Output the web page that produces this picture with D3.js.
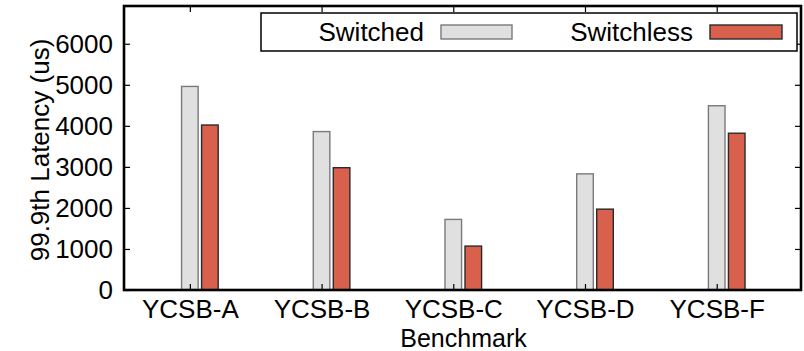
<!DOCTYPE html>
<html>
<head>
<meta charset="utf-8">
<script src="https://cdn.jsdelivr.net/npm/d3@7"></script>
<style>
  html, body { margin: 0; padding: 0; background: #fff; }
  svg { display: block; }
  text { font-family: "Liberation Sans", Arial, Helvetica, sans-serif; fill: #000; }
</style>
</head>
<body>
<svg id="chart" width="804" height="351"></svg>
<script>
// Benchmarks on the x axis
const categories = ["YCSB-A", "YCSB-B", "YCSB-C", "YCSB-D", "YCSB-F"];
// 99.9th percentile latency in microseconds
const switchedValues = [4960, 3860, 1720, 2830, 4490];
const switchlessValues = [4020, 2980, 1070, 1970, 3820];
const seriesNames = ["Switched", "Switchless"];
const yTicks = [0, 1000, 2000, 3000, 4000, 5000, 6000];

const colors = {
  Switched: { fill: "#e0e0e0", stroke: "#7a7a7a" },
  Switchless: { fill: "#d9604c", stroke: "#2a2a2a" }
};

const FONT = "26px";
const svg = d3.select("#chart");
const plot = { left: 124, right: 801, top: 6, bottom: 290 };

// Category index -> pixel; the first bar of each group sits on the tick
const x = d3.scaleLinear().domain([-0.5, 4.64]).range([plot.left, plot.right]);
const y = d3.scaleLinear().domain([0, 6920]).range([plot.bottom, plot.top]);

const step = x(1) - x(0);
const barW = step * 0.126;
const barOffset = step * 0.152;

const series = [
  { name: "Switched", values: switchedValues, offset: 0 },
  { name: "Switchless", values: switchlessValues, offset: barOffset }
];

// Bars
series.forEach(s => {
  svg.append("g")
    .selectAll("rect")
    .data(s.values)
    .join("rect")
    .attr("x", (d, i) => x(i) + s.offset - barW / 2)
    .attr("y", d => y(d))
    .attr("width", barW)
    .attr("height", d => y(0) - y(d))
    .attr("fill", colors[s.name].fill)
    .attr("stroke", colors[s.name].stroke)
    .attr("stroke-width", 1.4);
});

// Inward ticks on all four sides
const tickLen = 6;
const yAxisL = d3.axisLeft(y).tickValues(yTicks).tickSize(-tickLen).tickFormat(d3.format("d")).tickPadding(11);
const yAxisR = d3.axisRight(y).tickValues(yTicks.slice(1)).tickSize(-tickLen).tickFormat("");
const xAxisB = d3.axisBottom(x).tickValues(d3.range(categories.length)).tickSize(-tickLen)
  .tickFormat(i => categories[i]);
const xAxisT = d3.axisTop(x).tickValues(d3.range(categories.length)).tickSize(-tickLen).tickFormat("");

function style(g) {
  g.select(".domain").remove();
  g.selectAll(".tick line").attr("stroke", "#000").attr("stroke-width", 1.2);
  g.selectAll(".tick text").style("font-size", FONT).attr("fill", "#000");
}

svg.append("g").attr("transform", `translate(${plot.left},0)`).call(yAxisL).call(style);
svg.append("g").attr("transform", `translate(${plot.right},0)`).call(yAxisR).call(style);
svg.append("g").attr("transform", `translate(0,${plot.bottom})`).call(xAxisB).call(style)
  .selectAll(".tick text").attr("y", 28).attr("dy", null);
svg.append("g").attr("transform", `translate(0,${plot.top})`).call(xAxisT).call(style);

// Frame
svg.append("rect")
  .attr("x", plot.left).attr("y", plot.top)
  .attr("width", plot.right - plot.left).attr("height", plot.bottom - plot.top)
  .attr("fill", "none").attr("stroke", "#000").attr("stroke-width", 2.6);

// Axis titles
svg.append("text")
  .attr("transform", `translate(40,${(plot.top + plot.bottom) / 2 + 2}) rotate(-90)`)
  .attr("text-anchor", "middle").attr("dominant-baseline", "central")
  .style("font-size", FONT)
  .text("99.9th Latency (us)");

svg.append("text")
  .attr("x", (plot.left + plot.right) / 2 + 1).attr("y", 347)
  .attr("text-anchor", "middle")
  .style("font-size", "25px")
  .text("Benchmark");

// Legend
const legend = svg.append("g");
legend.append("rect")
  .attr("x", 261).attr("y", 13).attr("width", 536).attr("height", 38)
  .attr("fill", "#fff").attr("stroke", "#000").attr("stroke-width", 1.5);

const legendItems = [
  { name: seriesNames[0], textRight: 424, sx: 441, sw: 71 },
  { name: seriesNames[1], textRight: 693, sx: 710, sw: 72 }
];
legendItems.forEach(it => {
  legend.append("text")
    .attr("x", it.textRight).attr("y", 32)
    .attr("text-anchor", "end").attr("dominant-baseline", "central")
    .style("font-size", FONT)
    .text(it.name);
  legend.append("rect")
    .attr("x", it.sx).attr("y", 25).attr("width", it.sw).attr("height", 14)
    .attr("fill", colors[it.name].fill)
    .attr("stroke", colors[it.name].stroke)
    .attr("stroke-width", 1.4);
});
</script>
</body>
</html>
